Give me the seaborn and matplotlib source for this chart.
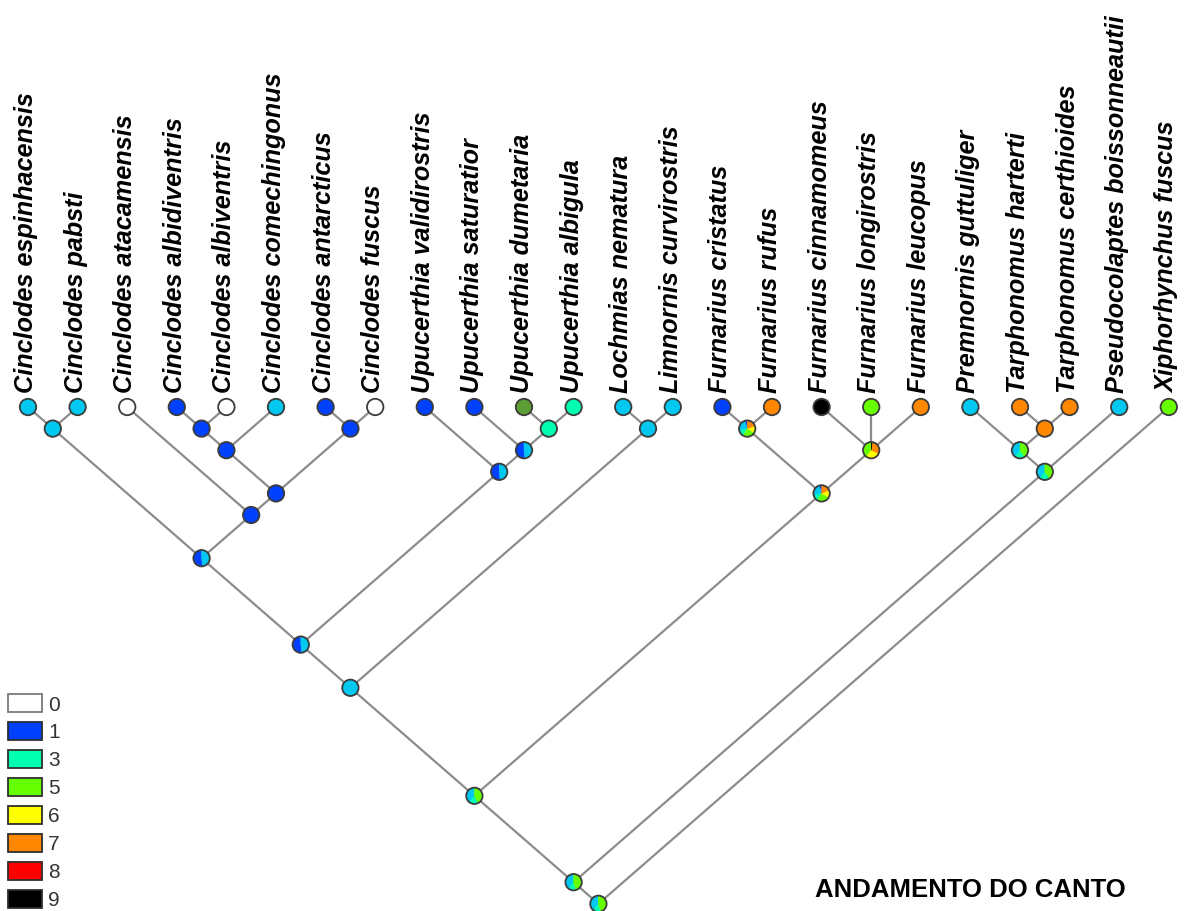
import numpy as np
import pandas as pd
import matplotlib
matplotlib.use("Agg")
import matplotlib.pyplot as plt
import seaborn as sns
from matplotlib.patches import Wedge, Circle, Patch
from matplotlib.collections import LineCollection
from matplotlib.transforms import ScaledTranslation

# ---------------- data ----------------
TIPS = [
    "Cinclodes espinhacensis", "Cinclodes pabsti", "Cinclodes atacamensis",
    "Cinclodes albidiventris", "Cinclodes albiventris", "Cinclodes comechingonus",
    "Cinclodes antarcticus", "Cinclodes fuscus", "Upucerthia validirostris",
    "Upucerthia saturatior", "Upucerthia dumetaria", "Upucerthia albigula",
    "Lochmias nematura", "Limnornis curvirostris", "Furnarius cristatus",
    "Furnarius rufus", "Furnarius cinnamomeus", "Furnarius longirostris",
    "Furnarius leucopus", "Premnornis guttuliger", "Tarphonomus harterti",
    "Tarphonomus certhioides", "Pseudocolaptes boissonneautii", "Xiphorhynchus fuscus",
]
TIP_STATES = [2, 2, 0, 1, 0, 2, 1, 0, 1, 1, 4, 3, 2, 2, 1, 7, 9, 5, 7, 2, 7, 7, 2, 5]

# topology: (label, child, child, ...); ints are tip indices
TREE = ("root",
        ("nB",
         ("nA",
          ("nCUL",
           ("nCU",
            ("nCin", ("nEP", 0, 1),
             ("nC5", 2, ("nC4", ("nC3", ("nC2", 3, 4), 5), ("nC1", 6, 7)))),
            ("nU3", 8, ("nU2", 9, ("nU1", 10, 11)))),
           ("nLL", 12, 13)),
          ("nF", ("nF1", 14, 15), ("nF2", 16, 17, 18))),
         ("nD3", ("nD2", 19, ("nD1", 20, 21)), 22)),
        23)

# ancestral-state proportions at internal nodes
NODE_PIES = {
    "nEP": {2: 1.0},
    "nC2": {1: 1.0},
    "nC3": {1: 1.0},
    "nC1": {1: 1.0},
    "nC4": {1: 1.0},
    "nC5": {1: 1.0},
    "nCin": {1: 0.52, 2: 0.48},
    "nU1": {3: 1.0},
    "nU2": {1: 0.52, 2: 0.48},
    "nU3": {1: 0.52, 2: 0.48},
    "nCU": {1: 0.52, 2: 0.48},
    "nLL": {2: 1.0},
    "nCUL": {2: 1.0},
    "nF1": {1: 0.05, 2: 0.25, 3: 0.12, 5: 0.25, 6: 0.13, 7: 0.20},
    "nF2": {5: 0.40, 6: 0.28, 7: 0.30, 9: 0.02},
    "nF": {1: 0.05, 2: 0.25, 3: 0.12, 5: 0.25, 6: 0.15, 7: 0.18},
    "nA": {2: 0.40, 3: 0.18, 5: 0.42},
    "nD1": {7: 1.0},
    "nD2": {2: 0.40, 3: 0.20, 5: 0.40},
    "nD3": {2: 0.40, 3: 0.20, 5: 0.40},
    "nB": {2: 0.40, 3: 0.15, 5: 0.45},
    "root": {2: 0.40, 3: 0.15, 5: 0.45},
}

PALETTE = {0: "#ffffff", 1: "#0040ff", 2: "#00c8f0", 3: "#00ffb0", 4: "#5c9e34",
           5: "#66ff00", 6: "#ffff00", 7: "#ff8800", 8: "#ff0000", 9: "#000000"}
LEGEND_STATES = [0, 1, 3, 5, 6, 7, 8, 9]
TITLE = "ANDAMENTO DO CANTO"

# ---------------- layout (slanted cladogram) ----------------
SLOPE = 0.5
node_pos = {}
segments = []


def layout(node):
    if isinstance(node, int):
        return (float(node), 0.0)
    label, *kids = node
    kp = [layout(k) for k in kids]
    x1, d1 = kp[0]
    x2, d2 = kp[-1]
    d = (x2 - x1) / (2 * SLOPE) + (d1 + d2) / 2
    x = x1 + SLOPE * (d - d1)
    for kx, kd in kp:
        segments.append([(x, d), (kx, kd)])
    node_pos[label] = (x, d)
    return (x, d)


layout(TREE)

# ---------------- figure ----------------
sns.set_theme(style="white")
plt.rcParams["font.family"] = ["Liberation Sans", "DejaVu Sans"]

W, H = 1184, 911
fig = plt.figure(figsize=(W / 100, H / 100), dpi=100)
ax = fig.add_axes([0, 0, 1, 1])
X0, XS = 28.0, 49.6     # px of first tip, px per tip
Y0, YS = 407.0, 21.6    # px of tips, px per depth unit
ax.set_xlim(-X0 / XS, (W - X0) / XS)
ax.set_ylim((H - Y0) / YS, -Y0 / YS)
ax.autoscale(False)
ax.axis("off")

# branches
ax.add_collection(LineCollection(segments, colors="#8c8c8c", linewidths=1.6,
                                 zorder=1, capstyle="round"))

# tips
tips_df = pd.DataFrame({"x": np.arange(len(TIPS)), "d": 0.0, "state": TIP_STATES})
sns.scatterplot(data=tips_df, x="x", y="d", hue="state", palette=PALETTE, s=140,
                edgecolor="#3c3c3c", linewidth=1.3, legend=False, ax=ax, zorder=3)

# internal-node pies (circular in screen space)
R = 0.082  # inches
for label, (x, d) in node_pos.items():
    trans = fig.dpi_scale_trans + ScaledTranslation(x, d, ax.transData)
    start = 90.0
    for state, frac in NODE_PIES[label].items():
        t2 = start + frac * 360.0
        ax.add_patch(Wedge((0, 0), R, start, t2, facecolor=PALETTE[state],
                           edgecolor=PALETTE[state], linewidth=0.3,
                           transform=trans, zorder=3))
        start = t2
    ax.add_patch(Circle((0, 0), R, fill=False, edgecolor="#3c3c3c", linewidth=1.3,
                        transform=trans, zorder=4))

# tip labels
for i, name in enumerate(TIPS):
    ax.annotate(name, xy=(i, 0), xytext=(-1.5, 10), textcoords="offset points",
                rotation=90, ha="center", va="bottom", fontsize=18.2,
                fontweight="bold", fontstyle="italic", color="black")

# legend
handles = [Patch(facecolor=PALETTE[s],
                 edgecolor="#7a7a7a" if s == 0 else "#2e2e2e",
                 linewidth=1.3, label=str(s)) for s in LEGEND_STATES]
leg = ax.legend(handles=handles, loc="lower left", bbox_to_anchor=(8 / W, 1 / H),
                frameon=False, fontsize=15, handlelength=1.63, handleheight=0.96,
                labelspacing=0.37, handletextpad=0.3, borderaxespad=0.0,
                borderpad=0.0)
for t in leg.get_texts():
    t.set_color("#333333")

fig.text(970 / W, 14 / H, TITLE, ha="center", va="baseline", fontsize=18.5,
         fontweight="bold", color="black")

fig.savefig("out.png", dpi=100)
